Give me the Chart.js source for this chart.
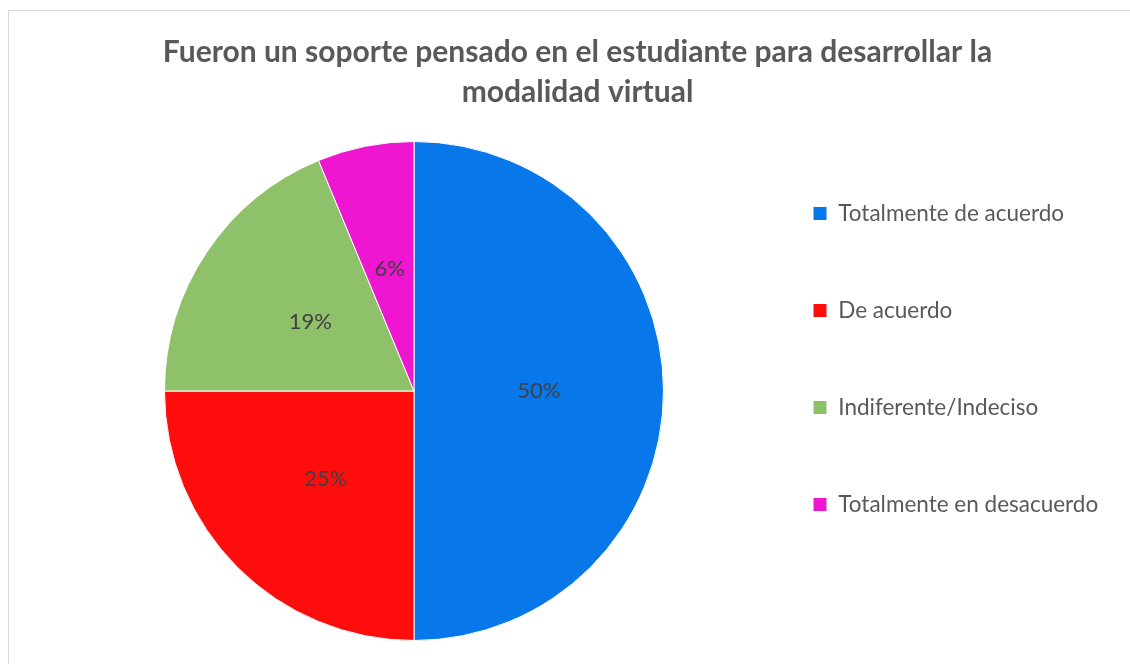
<!DOCTYPE html>
<html>
<head>
<meta charset="utf-8">
<script src="https://cdn.jsdelivr.net/npm/chart.js@4"></script>
<style>
	html, body { margin: 0; padding: 0; overflow: hidden; background: #fff; }
	#wrap {
		position: absolute; left: 8px; top: 10px;
		width: 1137px; height: 659px;
		border-left: 1px solid #d9d9d9; border-top: 1px solid #d9d9d9;
	}
</style>
</head>
<body>
<div id="wrap"><canvas id="chart1"></canvas></div>
<script>
	const titleLines = ["Fueron un soporte pensado en el estudiante para desarrollar la", "modalidad virtual"];
	const categories = ["Totalmente de acuerdo", "De acuerdo", "Indiferente/Indeciso", "Totalmente en desacuerdo"];
	const counts = [8, 4, 3, 1];
	const colors = ["#0777E9", "#FF0D0D", "#8FC16B", "#EE16D1"];

	const legendFont = 22.5;
	const legendPad = 97 - legendFont;
	const legendLeft = 804 - legendPad;

	// width of the longest legend text, so the pie lands where it should
	const mctx = document.createElement("canvas").getContext("2d");
	mctx.font = legendFont + "px Lato";
	const maxText = Math.max(...categories.map((c) => mctx.measureText(c).width));
	const rightPad = Math.max(0, 1137 - legendLeft - (legendPad + 14 + legendFont / 2 + maxText + 10));

	const pctLabels = {
		id: "pctLabels",
		afterDatasetsDraw(chart) {
			const ctx = chart.ctx;
			const total = counts.reduce((a, b) => a + b, 0);
			ctx.save();
			ctx.font = "22px Lato";
			ctx.fillStyle = "#404040";
			ctx.textAlign = "center";
			ctx.textBaseline = "middle";
			chart.getDatasetMeta(0).data.forEach((arc, i) => {
				const p = arc.tooltipPosition();
				ctx.fillText(Math.round((counts[i] / total) * 100) + "%", p.x, p.y);
			});
			ctx.restore();
		},
	};

	// legend sits a bit above the pie centre, title centred on the whole box
	const boxShift = {
		id: "boxShift",
		afterLayout(chart) {
			chart.legend.top += 33;
			chart.legend.bottom += 33;
			chart.titleBlock.left = 0;
			chart.titleBlock.right = chart.width;
		},
	};

	new Chart(document.getElementById("chart1"), {
		type: "pie",
		data: {
			labels: categories,
			datasets: [
				{
					data: counts,
					backgroundColor: colors,
					borderColor: "#ffffff",
					borderWidth: 1,
				},
			],
		},
		options: {
			responsive: true,
			maintainAspectRatio: false,
			animation: false,
			layout: {
				padding: { left: 810 - legendLeft, right: rightPad, top: 0, bottom: 29 },
			},
			plugins: {
				title: {
					display: true,
					text: titleLines,
					color: "#595959",
					font: { family: "Lato", size: 30, weight: "bold", lineHeight: "40px" },
					padding: { top: 21, bottom: 29 },
				},
				legend: {
					position: "right",
					labels: {
						boxWidth: 14,
						boxHeight: 14,
						padding: legendPad,
						color: "#595959",
						font: { family: "Lato", size: legendFont },
					},
				},
				tooltip: { enabled: false },
			},
		},
		plugins: [pctLabels, boxShift],
	});
</script>
</body>
</html>
